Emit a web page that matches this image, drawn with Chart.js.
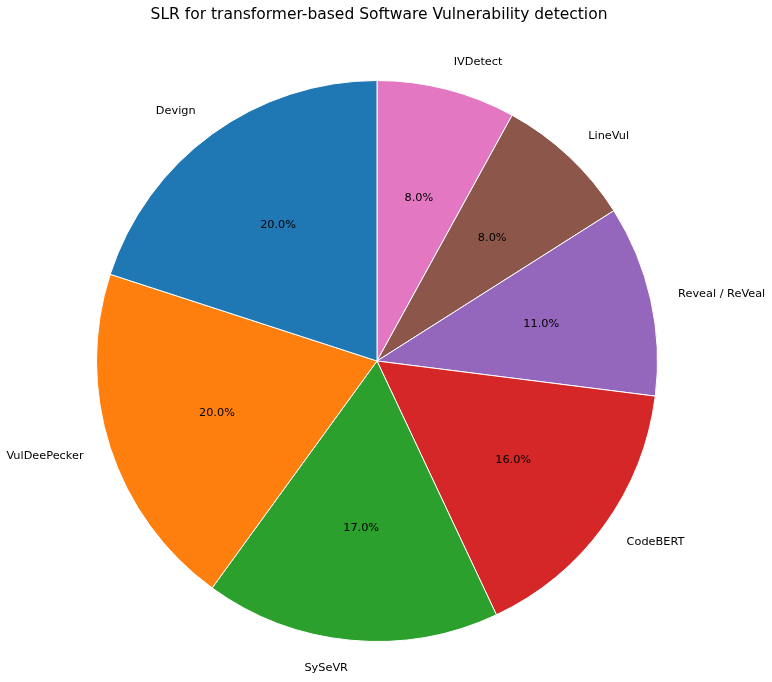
<!DOCTYPE html>
<html>
<head>
<meta charset="utf-8">
<script src="https://cdn.jsdelivr.net/npm/chart.js@4/dist/chart.umd.min.js"></script>
<style>
html,body{margin:0;padding:0;background:#fff;}
#wrap{width:772px;height:682px;position:relative;}
</style>
</head>
<body>
<div id="wrap"><canvas id="c" width="772" height="682"></canvas></div>
<script>
const chartTitle = 'SLR for transformer-based Software Vulnerability detection';
// Original (matplotlib, counter-clockwise from top) order
const categories = ['Devign', 'VulDeePecker', 'SySeVR', 'CodeBERT', 'Reveal / ReVeal', 'LineVul', 'IVDetect'];
const shares = [20, 20, 17, 16, 11, 8, 8];
const colors = ['#1f77b4', '#ff7f0e', '#2ca02c', '#d62728', '#9467bd', '#8c564b', '#e377c2'];

// Chart.js draws clockwise, so reverse to get the same layout
const labelsCW = categories.slice().reverse();
const valuesCW = shares.slice().reverse();
const colorsCW = colors.slice().reverse();

const FONT = '"DejaVu Sans", sans-serif';

const labelPlugin = {
  id: 'pieLabels',
  afterDatasetsDraw(chart) {
    const ctx = chart.ctx;
    const meta = chart.getDatasetMeta(0);
    const total = valuesCW.reduce((a, b) => a + b, 0);
    ctx.save();
    meta.data.forEach((arc, i) => {
      const p = arc.getProps(['x', 'y', 'startAngle', 'endAngle', 'outerRadius'], true);
      const mid = (p.startAngle + p.endAngle) / 2;
      const cx = Math.cos(mid), cy = Math.sin(mid);
      ctx.fillStyle = '#000';
      ctx.font = '11.3px ' + FONT;
      ctx.textAlign = 'center';
      ctx.textBaseline = 'middle';
      const pct = (valuesCW[i] / total * 100).toFixed(1) + '%';
      ctx.fillText(pct, p.x + cx * p.outerRadius * 0.6, p.y + cy * p.outerRadius * 0.6);
      const lx = p.x + cx * p.outerRadius * 1.1;
      const ly = p.y + cy * p.outerRadius * 1.1;
      ctx.textAlign = cx >= 0 ? 'left' : 'right';
      ctx.fillText(labelsCW[i], lx, ly);
    });
    ctx.font = '15.5px ' + FONT;
    ctx.textAlign = 'center';
    ctx.textBaseline = 'middle';
    ctx.fillText(chartTitle, 379, 15);
    ctx.restore();
  }
};

new Chart(document.getElementById('c'), {
  type: 'pie',
  data: {
    labels: labelsCW,
    datasets: [{
      data: valuesCW,
      backgroundColor: colorsCW,
      borderColor: '#ffffff',
      borderWidth: 1
    }]
  },
  options: {
    responsive: false,
    animation: false,
    rotation: 0,
    layout: { padding: { top: 80, bottom: 40, left: 0, right: 18 } },
    plugins: {
      legend: { display: false },
      title: { display: false },
      tooltip: { enabled: false }
    }
  },
  plugins: [labelPlugin]
});
</script>
</body>
</html>
